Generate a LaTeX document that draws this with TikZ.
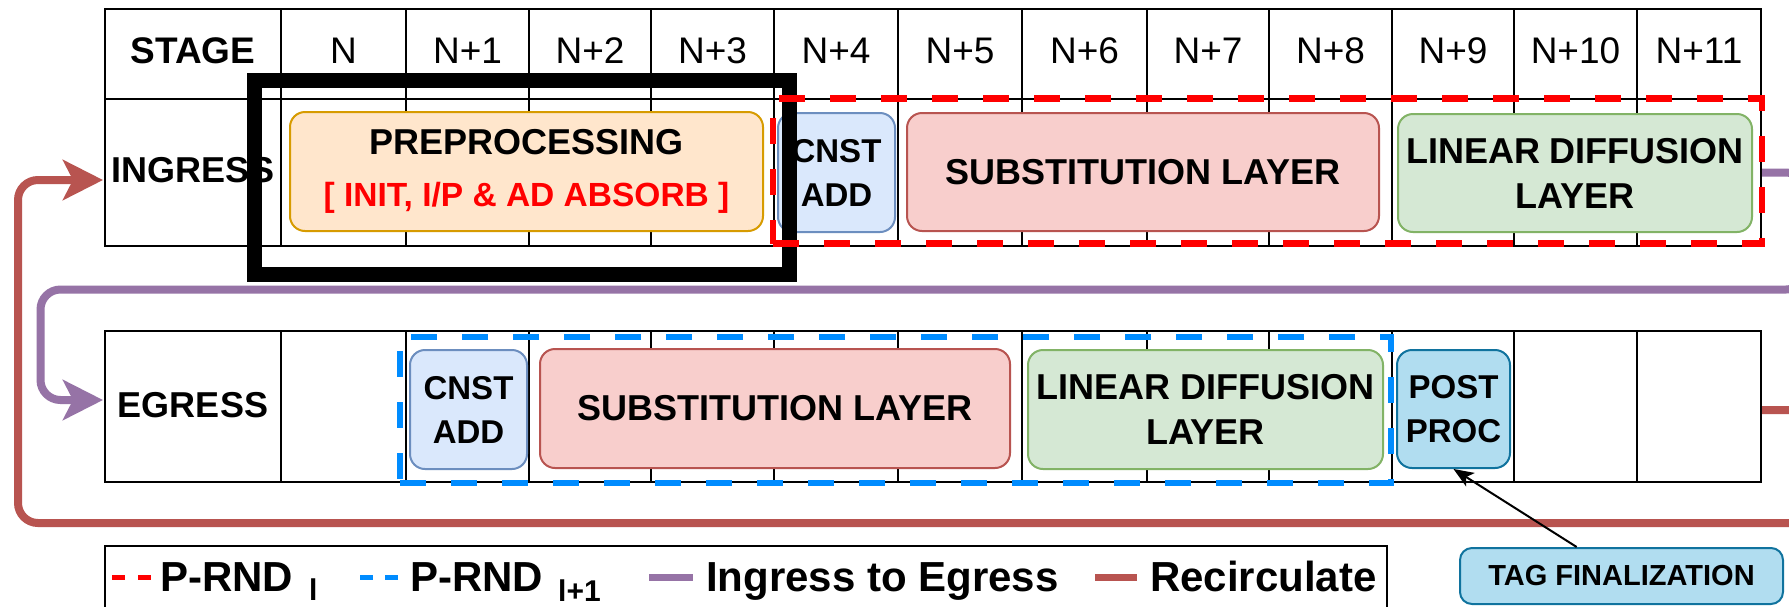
\documentclass[tikz,border=0pt]{standalone}
\usepackage{fontspec}
\setmainfont{Liberation Sans}
\usetikzlibrary{arrows.meta,calc}
\definecolor{preF}{HTML}{FFE6CC}
\definecolor{preD}{HTML}{D79B00}
\definecolor{cnF}{HTML}{DAE8FC}
\definecolor{cnD}{HTML}{6C8EBF}
\definecolor{subF}{HTML}{F8CECC}
\definecolor{subD}{HTML}{B85450}
\definecolor{linF}{HTML}{D5E8D4}
\definecolor{linD}{HTML}{82B366}
\definecolor{ppF}{HTML}{B1DDF0}
\definecolor{ppD}{HTML}{10739E}
\definecolor{purp}{HTML}{9673A6}
\definecolor{recC}{HTML}{B85450}
\definecolor{dblue}{RGB}{0,140,255}
\definecolor{dred}{RGB}{255,0,0}
\begin{document}
\begin{tikzpicture}[x=1pt,y=-1pt,
  cell/.style={draw=black, line width=2pt, inner sep=0pt},
  hdr/.style={font=\fontsize{37}{44}\selectfont, inner sep=0pt},
  rowlab/.style={font=\bfseries\fontsize{36}{44}\selectfont, inner sep=0pt},
  box/.style={draw, rounded corners=15pt, line width=2pt, inner sep=0pt, align=center, font=\bfseries\fontsize{36}{45}\selectfont},
  smallbox/.style={box, font=\bfseries\fontsize{33}{44}\selectfont},
  dashbox/.style={draw, line width=6.5pt, dash pattern=on 26pt off 25pt, inner sep=0pt},
  flow/.style={line width=8pt, rounded corners=20pt, -{Stealth[length=40pt,width=40pt,inset=10pt]}},
  legtxt/.style={font=\bfseries\fontsize{42}{50}\selectfont, inner sep=0pt, anchor=base west},
  legsub/.style={font=\bfseries\fontsize{30}{36}\selectfont, inner sep=0pt, anchor=base west},
]
\useasboundingbox (0,0) rectangle (1789,606);
\clip (0,0) rectangle (1789,606);
\fill[white] (0,0) rectangle (1789,606);

% table cells
\foreach \l/\r [count=\i] in {105/281,281/406,406/529,529/651,651/774,774/898,898/1022,1022/1147,1147/1269,1269/1392,1392/1514,1514/1637,1637/1761} {
  \node[cell, minimum width={\r-\l}, minimum height=90] (h\i) at ({(\l+\r)/2},54) {};
  \node[cell, minimum width={\r-\l}, minimum height=147] (i\i) at ({(\l+\r)/2},172.5) {};
  \node[cell, minimum width={\r-\l}, minimum height=151] (e\i) at ({(\l+\r)/2},406.5) {};
}
% header texts
\node[hdr, font=\bfseries\fontsize{37}{44}\selectfont] (t1) at (193,51) {STAGE};
\foreach \t [count=\i from 2] in {N,N+1,N+2,N+3,N+4,N+5,N+6,N+7,N+8,N+9,N+10,N+11} {
  \node[hdr] (t\i) at (h\i |- 0,51) {\t};
}
\node[rowlab] (lab1) at (193,170) {INGRESS};
\node[rowlab] (lab2) at (193,405) {EGRESS};

% ingress boxes
\node[box, fill=preF, draw=preD, minimum width=473, minimum height=119, font=\bfseries\fontsize{36}{52}\selectfont] (pre) at (526.5,171.5)
  {PREPROCESSING\\{\color{dred}\fontsize{33.5}{52}\selectfont [ INIT, I/P \& AD ABSORB ]}};
\node[smallbox, fill=cnF, draw=cnD, minimum width=117, minimum height=119] (cn1) at (836.5,172.5) {CNST\\ADD};
\node[box, fill=subF, draw=subD, minimum width=472, minimum height=118] (sub1) at (1143,172) {SUBSTITUTION LAYER};
\node[box, fill=linF, draw=linD, minimum width=354, minimum height=118] (lin1) at (1575,173) {LINEAR DIFFUSION\\LAYER};

% egress boxes
\node[smallbox, fill=cnF, draw=cnD, minimum width=117, minimum height=119] (cn2) at (468.5,409.5) {CNST\\ADD};
\node[box, fill=subF, draw=subD, minimum width=470, minimum height=119] (sub2) at (775,408.5) {SUBSTITUTION LAYER};
\node[box, fill=linF, draw=linD, minimum width=355, minimum height=119] (lin2) at (1205.5,409.5) {LINEAR DIFFUSION\\LAYER};
\node[smallbox, fill=ppF, draw=ppD, minimum width=113, minimum height=118] (post) at (1453.5,409) {POST\\PROC};

% highlight and rounds
\node[draw=black, line width=15pt, inner sep=0pt, minimum width=535, minimum height=194] (hl) at (522,177.5) {};
\node[dashbox, draw=dred, minimum width=989, minimum height=145] (rnd1) at (1267.5,171) {};
\node[dashbox, draw=dblue, minimum width=991, minimum height=146] (rnd2) at (895.5,410) {};

% flows
\coordinate (egIn) at (103,400);
\coordinate (ingIn) at (103,180);
\draw[flow, draw=purp, fill=none] (i13.east) -- (1806,172.5) -- (1806,289.5) -- (40.5,289.5) -- (40.5,400) -- (egIn);
\draw[flow, draw=recC] ([yshift=-3.5pt]e13.east) -- (1815,410) -- (1815,523) -- (18,523) -- (18,180) -- (ingIn);

% tag
\node[box, fill=ppF, draw=ppD, rounded corners=12pt, minimum width=323, minimum height=56, font=\bfseries\fontsize{29}{34}\selectfont] (tag) at (1621.5,576) {TAG FINALIZATION};
\draw[line width=2pt, -{Stealth[length=20pt,width=16pt,inset=5pt]}] ($(tag.north west)!0.362!(tag.north east)$) -- (post.south);

% legend
\node[draw=black, line width=2pt, inner sep=0pt, minimum width=1282, minimum height=88] (legend) at (746,590) {};
\coordinate (l1a) at (112,577); \coordinate (l1b) at (151,577);
\draw[dred, line width=5pt, dash pattern=on 13pt off 13pt] (l1a) -- (l1b);
\node[legtxt] (lg1) at (160,591) {P-RND};
\node[legsub] (lg1s) at (309,600) {l};
\coordinate (l2a) at (360,577); \coordinate (l2b) at (398,577);
\draw[dblue, line width=5pt, dash pattern=on 13pt off 12pt] (l2a) -- (l2b);
\node[legtxt] (lg2) at (410,591) {P-RND};
\node[legsub] (lg2s) at (558,601.5) {l+1};
\coordinate (l3a) at (649,577); \coordinate (l3b) at (693,577);
\draw[purp, line width=7pt] (l3a) -- (l3b);
\node[legtxt] (lg3) at (706,591) {Ingress to Egress};
\coordinate (l4a) at (1095,577); \coordinate (l4b) at (1137,577);
\draw[recC, line width=7pt] (l4a) -- (l4b);
\node[legtxt] (lg4) at (1150,591) {Recirculate};
\end{tikzpicture}
\end{document}
